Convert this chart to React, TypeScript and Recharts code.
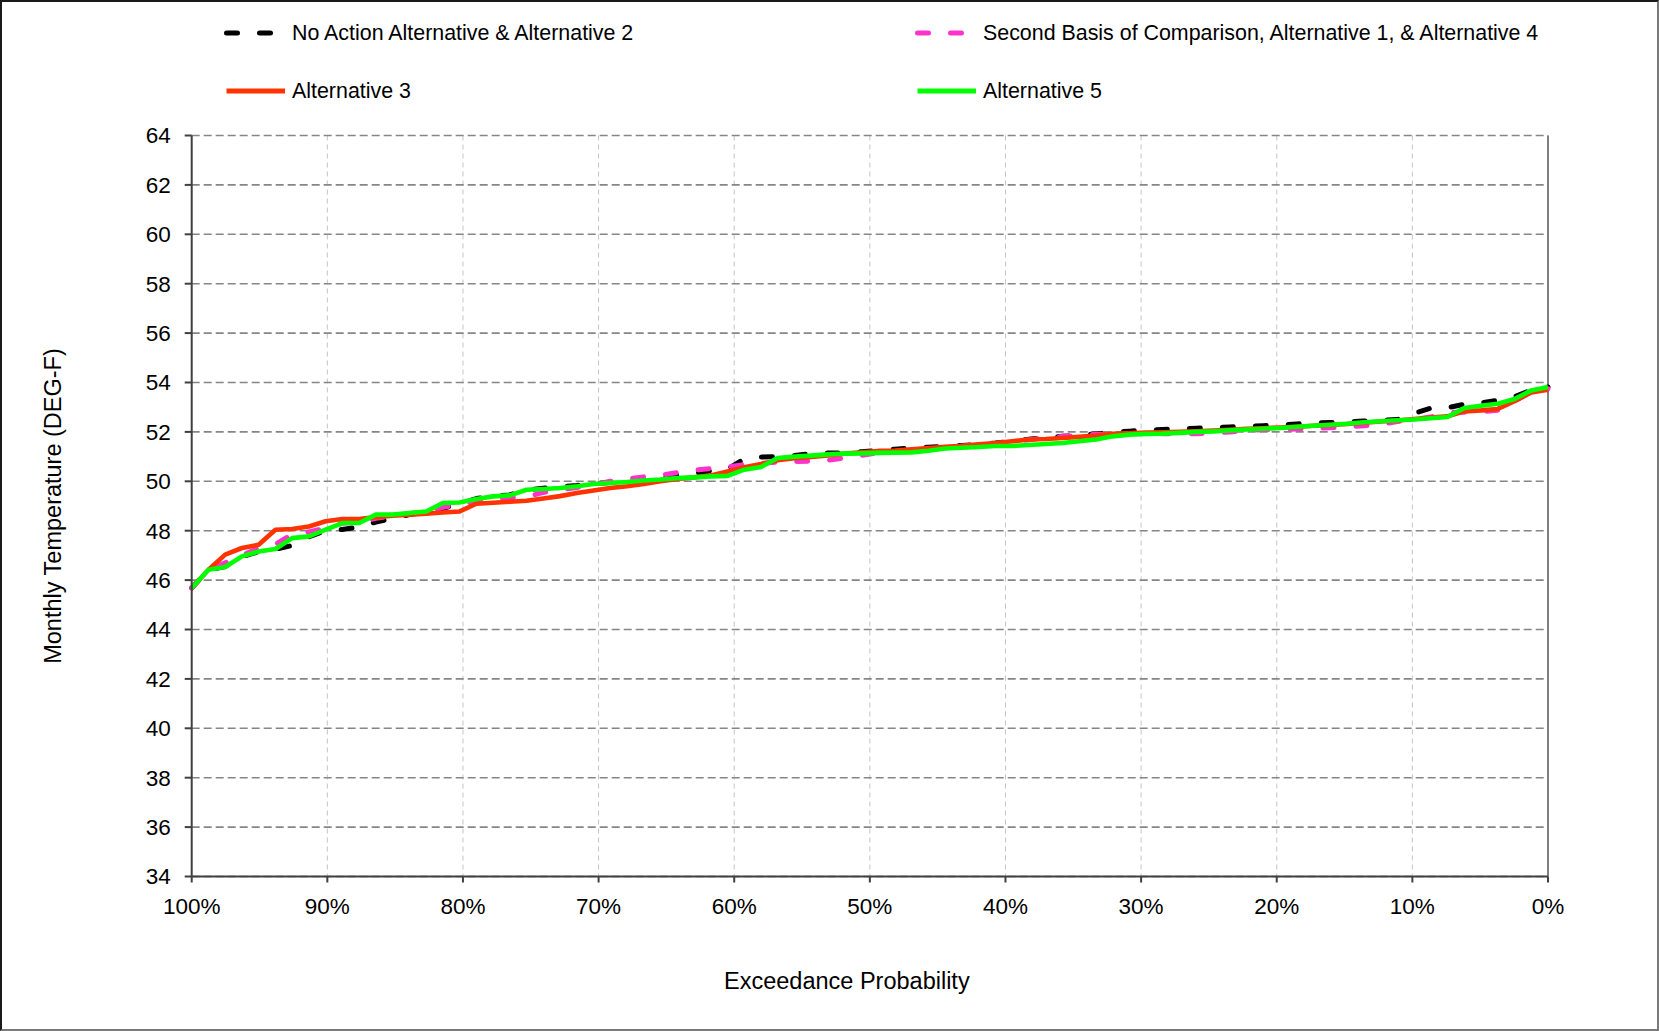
import {
  CartesianGrid,
  Legend,
  Line,
  LineChart,
  ReferenceLine,
  XAxis,
  YAxis,
} from 'recharts';

// Monthly temperature (DEG-F), sorted, 82 years
const noActionAlt2 = [
  45.68, 46.42, 46.55, 46.95, 47.15, 47.25, 47.4, 47.75, 48.0, 48.05,
  48.15, 48.35, 48.5, 48.65, 48.75, 48.9, 49.1, 49.3, 49.4, 49.45,
  49.65, 49.72, 49.78, 49.83, 49.9, 49.95, 50.0, 50.05, 50.12, 50.25,
  50.32, 50.42, 50.5, 50.9, 50.98, 51.0, 51.05, 51.12, 51.15, 51.15,
  51.2, 51.25, 51.3, 51.35, 51.38, 51.42, 51.45, 51.5, 51.55, 51.62,
  51.7, 51.78, 51.82, 51.86, 51.92, 51.98, 52.03, 52.07, 52.1, 52.13,
  52.15, 52.17, 52.2, 52.23, 52.25, 52.28, 52.32, 52.36, 52.38, 52.41,
  52.44, 52.47, 52.5, 52.75, 52.96, 52.98, 53.12, 53.18, 53.28, 53.42,
  53.7, 53.82,
];

const secondBasisAlt1Alt4 = [
  45.68, 46.42, 46.7, 47.0, 47.3, 47.45, 47.85, 47.95, 48.1, 48.3,
  48.35, 48.5, 48.6, 48.7, 48.75, 48.95, 49.05, 49.2, 49.3, 49.33,
  49.37, 49.55, 49.65, 49.75, 49.85, 50.0, 50.1, 50.18, 50.25, 50.35,
  50.45, 50.52, 50.58, 50.68, 50.72, 50.78, 50.8, 50.82, 50.85, 50.95,
  51.05, 51.15, 51.2, 51.25, 51.3, 51.38, 51.42, 51.47, 51.52, 51.6,
  51.68, 51.76, 51.82, 51.86, 51.9, 51.92, 51.94, 51.95, 51.93, 51.92,
  51.93, 51.95, 52.0, 52.05, 52.1, 52.1, 52.12, 52.14, 52.17, 52.2,
  52.25, 52.3, 52.42, 52.5, 52.6, 52.8, 52.8, 52.82, 52.88, 53.25,
  53.62, 53.75,
];

const alt3 = [
  45.68, 46.42, 47.03, 47.3, 47.43, 48.04, 48.07, 48.17, 48.38, 48.47,
  48.47, 48.55, 48.61, 48.65, 48.69, 48.74, 48.78, 49.09, 49.13, 49.17,
  49.21, 49.3, 49.4, 49.53, 49.63, 49.73, 49.8, 49.89, 50.0, 50.09,
  50.16, 50.24, 50.4, 50.57, 50.7, 50.85, 50.93, 50.99, 51.05, 51.12,
  51.17, 51.23, 51.25, 51.3, 51.35, 51.4, 51.44, 51.5, 51.55, 51.62,
  51.69, 51.71, 51.75, 51.8, 51.85, 51.92, 51.94, 51.97, 51.98, 52.0,
  52.02, 52.05, 52.09, 52.13, 52.15, 52.18, 52.21, 52.25, 52.28, 52.32,
  52.37, 52.42, 52.46, 52.52, 52.58, 52.63, 52.83, 52.87, 52.93, 53.24,
  53.6, 53.71,
];

const alt5 = [
  45.68, 46.42, 46.53, 46.96, 47.16, 47.26, 47.7, 47.77, 48.04, 48.31,
  48.31, 48.65, 48.65, 48.72, 48.78, 49.12, 49.14, 49.28, 49.39, 49.43,
  49.66, 49.69, 49.73, 49.8, 49.89, 49.93, 49.97, 50.03, 50.07, 50.13,
  50.16, 50.2, 50.22, 50.47, 50.58, 50.94, 51.0, 51.04, 51.09, 51.12,
  51.13, 51.15, 51.16, 51.17, 51.24, 51.33, 51.36, 51.39, 51.43, 51.43,
  51.47, 51.51, 51.55, 51.62, 51.69, 51.82, 51.89, 51.92, 51.93, 51.96,
  52.0, 52.02, 52.06, 52.1, 52.13, 52.16, 52.21, 52.25, 52.29, 52.33,
  52.39, 52.43, 52.47, 52.5, 52.55, 52.6, 52.97, 53.06, 53.14, 53.33,
  53.68, 53.82,
];

const xTicks = [100, 90, 80, 70, 60, 50, 40, 30, 20, 10, 0];
const yTicks = [34, 36, 38, 40, 42, 44, 46, 48, 50, 52, 54, 56, 58, 60, 62, 64];

// exceedance probability of each ranked year, 100% down to 0%
const exceedance = alt5.map((_, i) => 100 - (i * 100) / (alt5.length - 1));

const data = exceedance.map((p, i) => ({
  p,
  naa: noActionAlt2[i],
  sboc: secondBasisAlt1Alt4[i],
  alt3: alt3[i],
  alt5: alt5[i],
}));

const FONT = '"Liberation Sans", Arial, Helvetica, sans-serif';

const SERIES = [
  { key: 'naa', name: 'No Action Alternative & Alternative 2', color: '#000000', dash: '11 22' },
  { key: 'sboc', name: 'Second Basis of Comparison, Alternative 1, & Alternative 4', color: '#ff33cc', dash: '11 22' },
  { key: 'alt3', name: 'Alternative 3', color: '#ff3300', dash: undefined },
  { key: 'alt5', name: 'Alternative 5', color: '#00ff00', dash: undefined },
];

const legendSlots = [
  { left: 224, top: 33 },
  { left: 915, top: 33 },
  { left: 224, top: 91 },
  { left: 915, top: 91 },
];

function ChartLegend() {
  return (
    <div style={{ position: 'relative', width: 1659, height: 120, fontFamily: FONT }}>
      {SERIES.map((s, i) => (
        <div
          key={s.key}
          style={{
            position: 'absolute',
            left: legendSlots[i].left,
            top: legendSlots[i].top - 15,
            height: 30,
            display: 'flex',
            alignItems: 'center',
            whiteSpace: 'nowrap',
          }}
        >
          <svg width={68} height={10} style={{ display: 'block' }}>
            <line
              x1={2.5}
              y1={5}
              x2={s.dash ? 59.5 : 61}
              y2={5}
              stroke={s.color}
              strokeWidth={5}
              strokeDasharray={s.dash}
              strokeLinecap={s.dash ? 'round' : 'butt'}
            />
          </svg>
          <span style={{ fontSize: 21.4, color: '#000' }}>{s.name}</span>
        </div>
      ))}
    </div>
  );
}

function XTitle(props: any) {
  const vb = props.viewBox || { x: 191.7, y: 876.5, width: 1356.3 };
  const x = vb.x + vb.width / 2 - 23;
  const y = vb.y + 104.5;
  return (
    <text x={x} y={y} textAnchor="middle" dominantBaseline="central" fontSize={23.5} fontFamily={FONT} fill="#000">
      Exceedance Probability
    </text>
  );
}

function YTitle(props: any) {
  const vb = props.viewBox || { x: 0, y: 135.5, height: 741 };
  const x = vb.x + 53;
  const y = vb.y + vb.height / 2;
  return (
    <text
      x={x}
      y={y}
      transform={`rotate(-90, ${x}, ${y})`}
      textAnchor="middle"
      dominantBaseline="central"
      fontSize={23.5}
      fontFamily={FONT}
      fill="#000"
    >
      Monthly Temperature (DEG-F)
    </text>
  );
}

export default function App() {
  return (
    <div style={{ position: 'absolute', left: 0, top: 0, width: 1659, height: 1031, background: '#fff', fontFamily: FONT }}>
      <LineChart
        width={1659}
        height={1031}
        data={data}
        margin={{ top: 135.5, right: 111, left: 0, bottom: 94.5 }}
      >
        <CartesianGrid horizontal={false} stroke="#c4c4c4" strokeDasharray="5 4" strokeWidth={1} />
        <CartesianGrid vertical={false} stroke="#868686" strokeDasharray="8 4" strokeWidth={1.6} />
        <XAxis
          dataKey="p"
          type="number"
          domain={[0, 100]}
          reversed
          ticks={xTicks}
          tickFormatter={(v: number) => `${v}%`}
          interval={0}
          height={60}
          tickSize={6}
          tickMargin={16}
          stroke="#404040"
          strokeWidth={2}
          tick={{ fontSize: 22.5, fill: '#000', fontFamily: FONT }}
          label={<XTitle />}
        />
        <YAxis
          type="number"
          domain={[34, 64]}
          ticks={yTicks}
          interval={0}
          width={191.7}
          tickSize={7}
          tickMargin={14}
          stroke="#404040"
          strokeWidth={2}
          allowDataOverflow
          tick={{ fontSize: 22.5, fill: '#000', fontFamily: FONT }}
          label={<YTitle />}
        />
        <ReferenceLine x={0} stroke="#808080" strokeWidth={2} />
        <Legend
          layout="horizontal"
          verticalAlign="middle"
          align="center"
          content={() => <ChartLegend />}
          wrapperStyle={{ left: 0, top: 0, width: 1659, height: 120 }}
        />
        {SERIES.map((s) => (
          <Line
            key={s.key}
            type="linear"
            dataKey={s.key}
            name={s.name}
            stroke={s.color}
            strokeWidth={s.dash ? 5 : 4.6}
            strokeDasharray={s.dash}
            strokeLinecap={s.dash ? 'round' : 'butt'}
            strokeLinejoin="round"
            dot={false}
            activeDot={false}
            isAnimationActive={false}
          />
        ))}
      </LineChart>
      <div
        style={{
          position: 'absolute',
          left: 0,
          top: 0,
          width: 1659,
          height: 1031,
          boxSizing: 'border-box',
          borderTop: '2px solid #1a1a1a',
          borderLeft: '2px solid #1a1a1a',
          borderRight: '2px solid #7a7a7a',
          borderBottom: '2px solid #7a7a7a',
          pointerEvents: 'none',
        }}
      />
    </div>
  );
}
